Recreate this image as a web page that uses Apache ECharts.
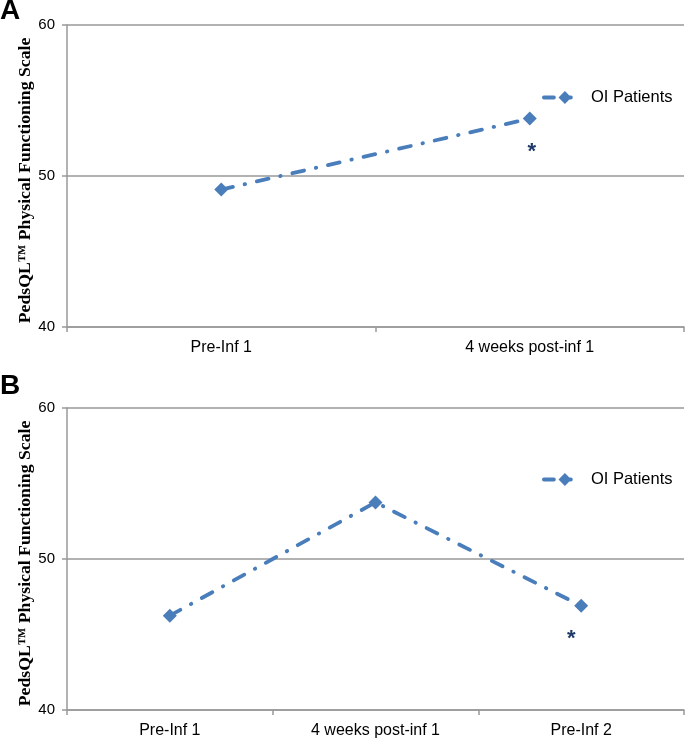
<!DOCTYPE html>
<html>
<head>
<meta charset="utf-8">
<script src="https://cdn.jsdelivr.net/npm/echarts@6/dist/echarts.min.js"></script>
<style>html,body{margin:0;padding:0;background:#fff}#c{width:685px;height:743px}</style>
</head>
<body>
<div id="c"></div>
<script>
const categoriesA = ['Pre-Inf 1', '4 weeks post-inf 1'];
const valuesA = [49.1, 53.8];
const categoriesB = ['Pre-Inf 1', '4 weeks post-inf 1', 'Pre-Inf 2'];
const valuesB = [46.25, 53.75, 46.9];
const starA = [false, true];
const starB = [false, false, true];
const yMin = 40, yMax = 60, yInterval = 10;
const seriesName = 'OI Patients';
const yTitle = 'PedsQL\u2122 Physical Functioning Scale';

const blue = '#4A7EBB';
const axisGray = '#999999';
const labelFont = 'Liberation Sans';

function yAxisCfg(gi) {
  return {
    type: 'value', gridIndex: gi, min: yMin, max: yMax, interval: yInterval,
    name: yTitle, nameLocation: 'middle', nameGap: 33, nameRotate: 90, nameMoveOverlap: false,
    nameTextStyle: {fontFamily: 'Liberation Serif', fontWeight: 'bold', fontSize: 17.7, color: '#000', padding: [0, 9, 0, 0]},
    axisLine: {show: true, lineStyle: {color: axisGray, width: 1.5}},
    axisTick: {show: true, length: 5, lineStyle: {color: axisGray, width: 1.5}},
    axisLabel: {fontFamily: labelFont, fontSize: 15, color: '#000', margin: 12},
    splitLine: {show: true, lineStyle: {color: axisGray, width: 1.5}}
  };
}
function xAxisCfg(gi, cats) {
  return {
    type: 'category', gridIndex: gi, data: cats, boundaryGap: true,
    axisLine: {show: true, lineStyle: {color: axisGray, width: 1.5}},
    axisTick: {show: true, length: 5, lineStyle: {color: axisGray, width: 1.5}},
    axisLabel: {fontFamily: labelFont, fontSize: 16, color: '#000', margin: 13}
  };
}
function seriesCfg(gi, vals, stars, offsets) {
  return {
    type: 'line', name: seriesName, xAxisIndex: gi, yAxisIndex: gi,
    symbol: 'diamond', symbolSize: 14,
    itemStyle: {color: blue},
    lineStyle: {color: blue, width: 3.8, type: [12, 12, 0.5, 12], cap: 'round'},
    data: vals.map((v, i) => stars[i] ? {
      value: v,
      label: {show: true, position: 'inside', formatter: '*', offset: offsets,
        fontFamily: labelFont, fontSize: 22, fontWeight: 'bold', color: '#1F3A68'}
    } : v),
    label: {show: false},
    z: 3
  };
}
function legendCfg(top) {
  return {
    data: [seriesName], left: 542, top: top, padding: 0, itemWidth: 42, itemHeight: 16,
    lineStyle: {width: 3.8, type: [10, 16, 1, 20], cap: 'round'},
    textStyle: {fontFamily: labelFont, fontSize: 16.5, color: '#000'}
  };
}

const chart = echarts.init(document.getElementById('c'), null, {renderer: 'canvas'});
chart.setOption({
  animation: false,
  backgroundColor: '#fff',
  grid: [
    {left: 67, right: 1, top: 25, height: 302},
    {left: 67, right: 1, top: 408, height: 302}
  ],
  xAxis: [xAxisCfg(0, categoriesA), xAxisCfg(1, categoriesB)],
  yAxis: [yAxisCfg(0), yAxisCfg(1)],
  legend: [legendCfg(89), legendCfg(471)],
  graphic: [
    {type: 'text', left: 0, top: -3, style: {text: 'A', fontFamily: 'Liberation Sans', fontWeight: 'bold', fontSize: 28, fill: '#000'}},
    {type: 'text', left: 0, top: 372, style: {text: 'B', fontFamily: 'Liberation Sans', fontWeight: 'bold', fontSize: 28, fill: '#000'}}
  ],
  series: [
    seriesCfg(0, valuesA, starA, [2, 33]),
    seriesCfg(1, valuesB, starB, [-10, 33])
  ]
});
</script>
</body>
</html>
